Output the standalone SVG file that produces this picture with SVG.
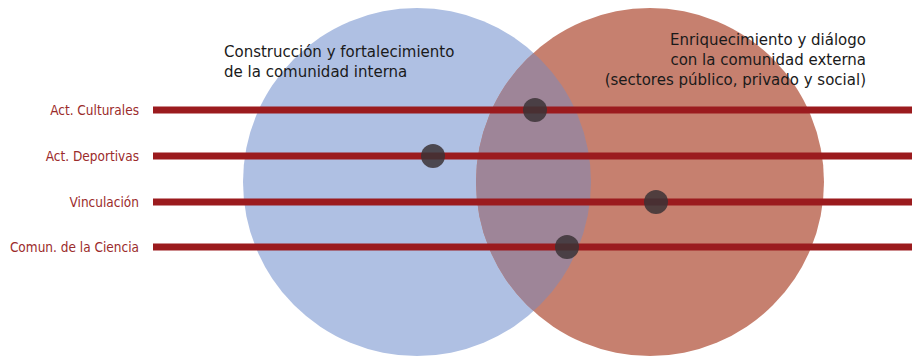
<svg xmlns="http://www.w3.org/2000/svg" width="912" height="356" viewBox="0 0 912 356">
<defs>
<style>
.lbl{font-family:"DejaVu Sans Condensed","DejaVu Sans",sans-serif;font-size:13.5px;fill:#9B2B2B;text-anchor:end}
.ttl{font-family:"DejaVu Sans","Liberation Sans",sans-serif;font-size:15px;fill:#1a1a1a}
.bar{stroke:#9B1B1E;stroke-width:7}
.dot{fill:#3b3336;fill-opacity:0.85}
</style>
<clipPath id="blueClip"><circle cx="417" cy="182" r="174"/></clipPath>
</defs>
<rect width="912" height="356" fill="#ffffff"/>
<g id="circle-interna"><circle cx="417" cy="182" r="174" fill="#AFC0E3"/></g>
<g id="circle-externa"><circle cx="650" cy="182" r="174" fill="#C6806F"/></g>
<g id="overlap"><circle cx="650" cy="182" r="174" fill="#9E8598" clip-path="url(#blueClip)"/></g>
<g id="title-interna">
<text class="ttl" x="224" y="57">Construcción y fortalecimiento</text>
<text class="ttl" x="224" y="77">de la comunidad interna</text>
</g>
<g id="title-externa">
<text class="ttl" x="866" y="45" text-anchor="end">Enriquecimiento y diálogo</text>
<text class="ttl" x="866" y="65" text-anchor="end">con la comunidad externa</text>
<text class="ttl" x="866" y="85" text-anchor="end">(sectores público, privado y social)</text>
</g>
<g id="connectors">
<line class="bar" x1="153" y1="110" x2="912" y2="110"/>
<line class="bar" x1="153" y1="156" x2="912" y2="156"/>
<line class="bar" x1="153" y1="202" x2="912" y2="202"/>
<line class="bar" x1="153" y1="247" x2="912" y2="247"/>
</g>
<g id="row-culturales"><text class="lbl" x="139" y="115">Act. Culturales</text><circle class="dot" cx="535" cy="110" r="12"/></g>
<g id="row-deportivas"><text class="lbl" x="139" y="161">Act. Deportivas</text><circle class="dot" cx="433" cy="156" r="12"/></g>
<g id="row-vinculacion"><text class="lbl" x="139" y="207">Vinculación</text><circle class="dot" cx="656" cy="202" r="12"/></g>
<g id="row-ciencia"><text class="lbl" x="139" y="252">Comun. de la Ciencia</text><circle class="dot" cx="567" cy="247" r="12"/></g>
</svg>
